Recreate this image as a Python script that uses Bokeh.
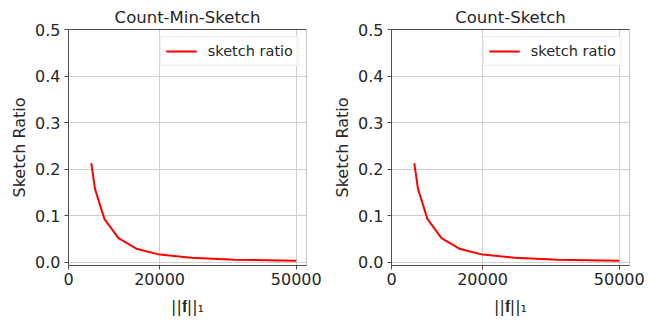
from bokeh.plotting import figure
from bokeh.layouts import row
from bokeh.models import FixedTicker, NumeralTickFormatter, Range1d, LinearAxis, Title
from bokeh.embed import file_html
from bokeh.resources import INLINE

# data
norm_l1 = [5000, 5830, 7880, 10980, 14890, 20030, 27000, 36500, 50000]
cms_ratio = [0.2126, 0.157, 0.093, 0.0517, 0.029, 0.0162, 0.0095, 0.0054, 0.0028]
cs_ratio = [0.2126, 0.157, 0.093, 0.0517, 0.029, 0.0162, 0.0095, 0.0054, 0.0028]
titles = ["Count-Min-Sketch", "Count-Sketch"]
series_label = "sketch ratio"
x_ticks = [0, 20000, 50000]
y_ticks = [0.0, 0.1, 0.2, 0.3, 0.4, 0.5]
x_label = "||\U0001D41F||\u2081"
y_label = "Sketch Ratio"

FONT = "DejaVu Sans"
TXT = "#262626"
SPINE = "#4d4d4d"


def make_panel(title, ratio):
    t = Title(text=title, text_font=FONT, text_font_size="16.5px",
              text_font_style="normal", text_color=TXT, align="center",
              standoff=5)
    p = figure(width=323, height=318, title=t,
               x_range=Range1d(0, 52250), y_range=Range1d(-0.0072, 0.5),
               output_backend="svg", toolbar_location=None,
               min_border_left=68, min_border_right=17,
               min_border_top=29, min_border_bottom=51)

    p.line(norm_l1, ratio, line_color="#ff0000", line_width=2,
           legend_label=series_label)

    p.outline_line_color = "#c4c4c4"
    p.outline_line_width = 1

    p.grid.grid_line_color = "#cfcfcf"
    p.grid.grid_line_width = 1

    p.xaxis.ticker = FixedTicker(ticks=x_ticks)
    p.xaxis.formatter = NumeralTickFormatter(format="0")
    p.yaxis.ticker = FixedTicker(ticks=y_ticks)
    p.yaxis.formatter = NumeralTickFormatter(format="0.0")
    p.xgrid.ticker = FixedTicker(ticks=x_ticks)
    p.ygrid.ticker = FixedTicker(ticks=y_ticks)

    for ax in (p.xaxis, p.yaxis):
        ax.axis_line_color = SPINE
        ax.axis_line_width = 1
        ax.major_tick_line_color = SPINE
        ax.major_tick_out = 4
        ax.major_tick_in = 0
        ax.minor_tick_line_color = None
        ax.major_label_text_font = FONT
        ax.major_label_text_font_size = "16px"
        ax.major_label_text_color = TXT
        ax.axis_label_text_font = FONT
        ax.axis_label_text_font_size = "16px"
        ax.axis_label_text_font_style = "normal"
        ax.axis_label_text_color = TXT
    p.xaxis.axis_label = x_label
    p.yaxis.axis_label = y_label
    p.xaxis.major_label_standoff = 3
    p.yaxis.major_label_standoff = 4
    p.xaxis.axis_label_standoff = 9
    p.yaxis.axis_label_standoff = 3

    top = LinearAxis(ticker=FixedTicker(ticks=[]), axis_line_color=SPINE,
                     major_tick_out=0, major_tick_in=0, minor_tick_out=0,
                     minor_tick_in=0, major_label_text_font_size="0px")
    p.add_layout(top, "above")

    lg = p.legend[0]
    lg.location = "top_right"
    lg.margin = 7
    lg.padding = 5
    lg.spacing = 0
    lg.glyph_width = 31
    lg.glyph_height = 18
    lg.label_height = 18
    lg.label_standoff = 11
    lg.label_text_font = FONT
    lg.label_text_font_size = "14.5px"
    lg.label_text_color = TXT
    lg.border_line_color = "#d9d9d9"
    lg.border_line_width = 1
    lg.background_fill_alpha = 0.8
    return p


p1 = make_panel(titles[0], cms_ratio)
p2 = make_panel(titles[1], cs_ratio)
layout = row(p1, p2, spacing=0)

open("out.html", "w").write(file_html(layout, INLINE))
